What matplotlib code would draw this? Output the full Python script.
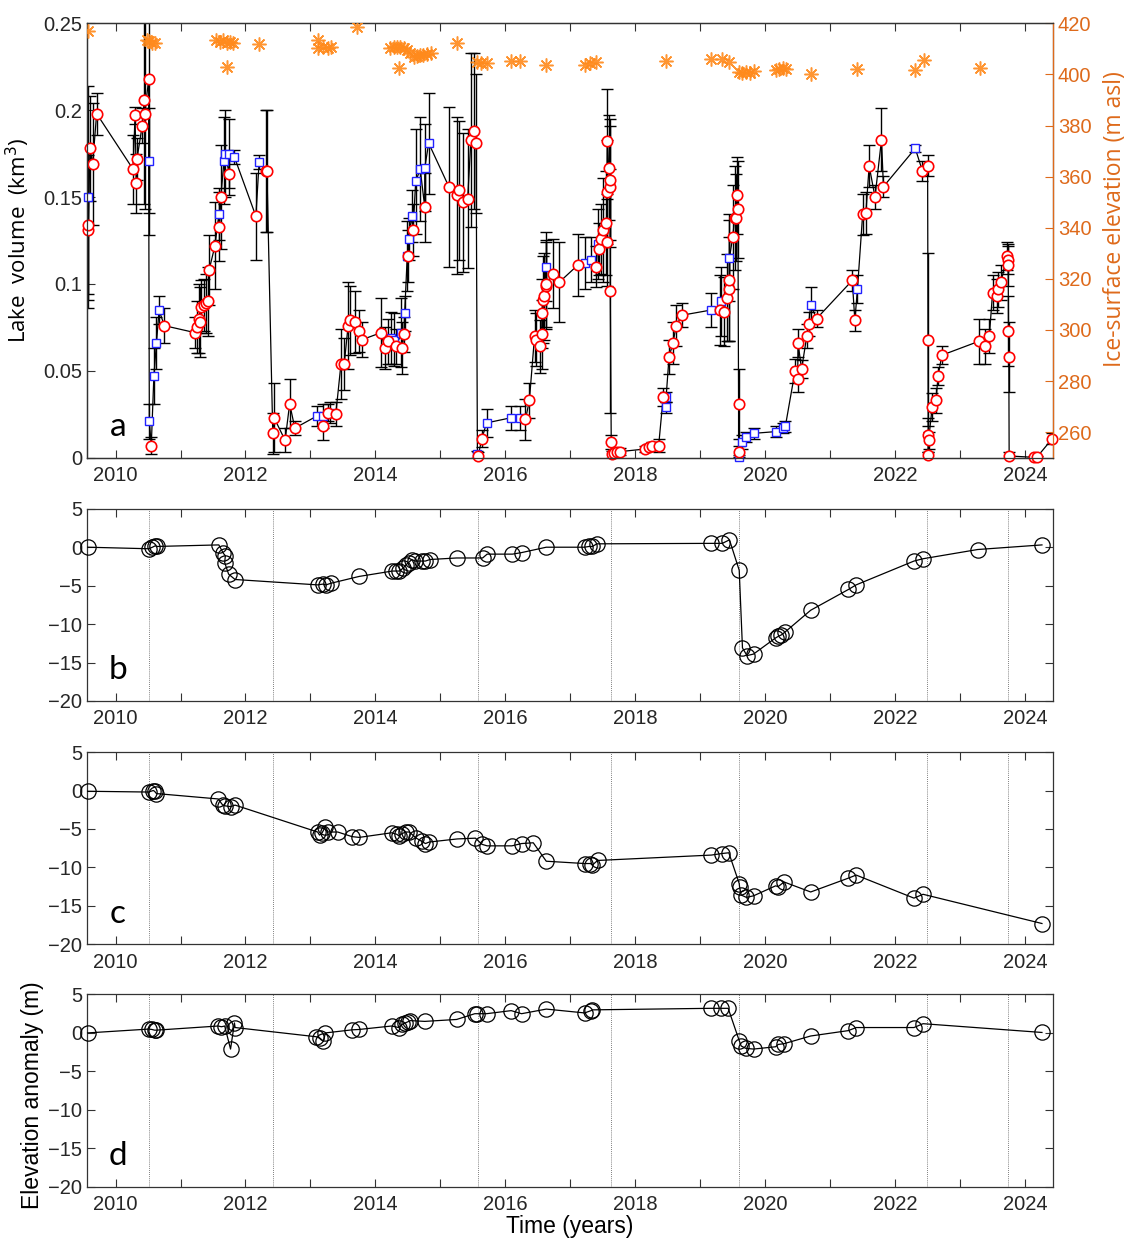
import numpy as np
import matplotlib
matplotlib.use("Agg")
from matplotlib import pyplot as plt

# ---- panel a: lake volume (km3), red circles
red_t = [2009.576, 2009.58, 2009.607, 2009.647, 2009.709, 2010.27, 2010.30, 2010.32, 2010.33, 2010.41,
         2010.44, 2010.45, 2010.51, 2010.55, 2010.75, 2011.22, 2011.25, 2011.28, 2011.30, 2011.31,
         2011.36, 2011.39, 2011.43, 2011.44, 2011.53, 2011.60, 2011.62, 2011.75, 2012.16, 2012.31,
         2012.33, 2012.42, 2012.44, 2012.61, 2012.68, 2012.76, 2013.20, 2013.27, 2013.39, 2013.47,
         2013.52, 2013.58, 2013.61, 2013.69, 2013.74, 2013.80, 2014.09, 2014.14, 2014.19, 2014.32,
         2014.41, 2014.44, 2014.50, 2014.58, 2014.76, 2015.13, 2015.25, 2015.28, 2015.35, 2015.42,
         2015.47, 2015.52, 2015.55, 2015.58, 2015.64, 2016.31, 2016.37, 2016.45, 2016.47, 2016.53,
         2016.56, 2016.565, 2016.58, 2016.59, 2016.62, 2016.63, 2016.73, 2016.83, 2017.12, 2017.40,
         2017.44, 2017.47, 2017.50, 2017.55, 2017.56, 2017.565, 2017.57, 2017.59, 2017.61, 2017.612,
         2017.615, 2017.63, 2017.635, 2017.67, 2017.72, 2017.77, 2018.15, 2018.21, 2018.26, 2018.36,
         2018.43, 2018.52, 2018.58, 2018.63, 2018.72, 2019.31, 2019.36, 2019.41, 2019.44, 2019.45,
         2019.50, 2019.53, 2019.55, 2019.57, 2019.58, 2019.59, 2019.60, 2020.46, 2020.50, 2020.505,
         2020.56, 2020.64, 2020.67, 2020.79, 2021.34, 2021.38, 2021.50, 2021.55, 2021.60, 2021.69,
         2021.79, 2021.82, 2022.42, 2022.50, 2022.505, 2022.507, 2022.51, 2022.515, 2022.57, 2022.63,
         2022.66, 2022.72, 2023.29, 2023.39, 2023.45, 2023.50, 2023.57, 2023.58, 2023.63, 2023.72,
         2023.73, 2023.74, 2023.745, 2023.75, 2023.755, 2024.13, 2024.18, 2024.42]
red_v = [0.131, 0.134, 0.178, 0.169, 0.198, 0.166, 0.197, 0.158, 0.172, 0.191,
         0.206, 0.198, 0.218, 0.007, 0.076, 0.072, 0.075, 0.080, 0.078, 0.087,
         0.088, 0.089, 0.090, 0.108, 0.122, 0.133, 0.150, 0.163, 0.139, 0.165,
         0.165, 0.014, 0.023, 0.010, 0.031, 0.017, 0.018, 0.026, 0.025, 0.054,
         0.054, 0.076, 0.079, 0.078, 0.073, 0.068, 0.072, 0.063, 0.067, 0.064,
         0.063, 0.071, 0.116, 0.131, 0.144, 0.156, 0.151, 0.154, 0.147, 0.149,
         0.183, 0.188, 0.181, 0.001, 0.011, 0.022, 0.033, 0.070, 0.068, 0.064,
         0.071, 0.083, 0.091, 0.093, 0.099, 0.100, 0.106, 0.101, 0.111, 0.110,
         0.120, 0.126, 0.131, 0.135, 0.124, 0.153, 0.182, 0.167, 0.156, 0.160,
         0.096, 0.009, 0.002, 0.0025, 0.0035, 0.0035, 0.005, 0.006, 0.007, 0.007,
         0.035, 0.058, 0.066, 0.076, 0.082, 0.085, 0.084, 0.092, 0.097, 0.102,
         0.127, 0.138, 0.138, 0.151, 0.143, 0.031, 0.0035, 0.050, 0.045, 0.066,
         0.051, 0.070, 0.077, 0.080, 0.102, 0.079, 0.140, 0.141, 0.168, 0.150,
         0.183, 0.156, 0.165, 0.168, 0.068, 0.013, 0.0015, 0.010, 0.029, 0.033,
         0.047, 0.059, 0.067, 0.064, 0.070, 0.095, 0.093, 0.097, 0.101, 0.116,
         0.114, 0.111, 0.073, 0.058, 0.001, 0.0002, 0.0002, 0.011]
red_e = [0.04, 0.04, 0.03, 0.035, 0.012, 0.02, 0.005, 0.017, 0.012, 0.01,
         0.06, 0.055, 0.09, 0.005, 0.01, 0.009, 0.015, 0.02, 0.02, 0.015,
         0.015, 0.017, 0.02, 0.02, 0.025, 0.02, 0.03, 0.012, 0.025, 0.035,
         0.035, 0.012, 0.02, 0.007, 0.014, 0.004, 0.008, 0.005, 0.007, 0.02,
         0.015, 0.025, 0.02, 0.018, 0.012, 0.01, 0.02, 0.012, 0.013, 0.01,
         0.015, 0.01, 0.015, 0.015, 0.02, 0.046, 0.045, 0.04, 0.04, 0.04,
         0.05, 0.045, 0.04, 0.002, 0.005, 0.012, 0.01, 0.015, 0.015, 0.015,
         0.02, 0.02, 0.025, 0.025, 0.025, 0.025, 0.02, 0.023, 0.018, 0.012,
         0.015, 0.02, 0.03, 0.03, 0.025, 0.03, 0.03, 0.03, 0.035, 0.035,
         0.07, 0.004, 0.002, 0.002, 0.002, 0.002, 0.002, 0.002, 0.002, 0.004,
         0.005, 0.01, 0.012, 0.012, 0.007, 0.02, 0.02, 0.025, 0.03, 0.035,
         0.03, 0.03, 0.025, 0.022, 0.028, 0.02, 0.003, 0.007, 0.007, 0.008,
         0.005, 0.007, 0.007, 0.005, 0.006, 0.006, 0.012, 0.012, 0.012, 0.007,
         0.018, 0.006, 0.006, 0.006, 0.05, 0.01, 0.002, 0.005, 0.008, 0.007,
         0.005, 0.005, 0.013, 0.01, 0.01, 0.01, 0.01, 0.01, 0.01, 0.008,
         0.008, 0.012, 0.02, 0.02, 0.002, 0.001, 0.001, 0.003]

# ---- panel a: lake volume (km3), blue squares
blue_t = [2009.576, 2010.51, 2010.52, 2010.59, 2010.63, 2010.67, 2011.59, 2011.67, 2011.69, 2011.75,
          2011.83, 2012.21, 2013.10, 2013.19, 2013.30, 2014.24, 2014.28, 2014.40, 2014.45, 2014.49,
          2014.51, 2014.56, 2014.62, 2014.69, 2014.76, 2014.82, 2015.57, 2015.71, 2016.09, 2016.23,
          2016.62, 2017.22, 2017.32, 2017.42, 2018.47, 2018.475, 2019.17, 2019.32, 2019.45, 2019.59,
          2019.64, 2019.71, 2019.82, 2020.16, 2020.28, 2020.31, 2020.70, 2021.42, 2022.31]
blue_v = [0.150, 0.171, 0.021, 0.047, 0.066, 0.085, 0.140, 0.171, 0.175, 0.175,
          0.173, 0.170, 0.024, 0.024, 0.026, 0.069, 0.068, 0.072, 0.083, 0.116,
          0.126, 0.139, 0.159, 0.166, 0.167, 0.181, 0.002, 0.020, 0.023, 0.023,
          0.110, 0.112, 0.114, 0.123, 0.029, 0.035, 0.085, 0.090, 0.115, 0.0006,
          0.009, 0.012, 0.014, 0.015, 0.017, 0.018, 0.088, 0.097, 0.178]
blue_e = [0.064, 0.03, 0.01, 0.016, 0.015, 0.008, 0.015, 0.025, 0.025, 0.02,
          0.004, 0.004, 0.006, 0.007, 0.006, 0.015, 0.015, 0.02, 0.01, 0.02,
          0.012, 0.015, 0.03, 0.03, 0.025, 0.029, 0.002, 0.008, 0.007, 0.007,
          0.02, 0.015, 0.013, 0.02, 0.003, 0.003, 0.01, 0.02, 0.025, 0.001,
          0.004, 0.003, 0.003, 0.003, 0.003, 0.003, 0.01, 0.008, 0.002]

# ---- panel a: ice-surface elevation (m asl)
ice_t = [2009.58, 2010.49, 2010.52, 2010.56, 2010.61, 2011.55, 2011.61, 2011.66, 2011.71, 2011.76,
         2011.81, 2011.71, 2012.21, 2013.12, 2013.12, 2013.19, 2013.27, 2013.32, 2013.72, 2014.23,
         2014.28, 2014.33, 2014.38, 2014.44, 2014.49, 2014.54, 2014.59, 2014.64, 2014.69, 2014.74,
         2014.79, 2014.85, 2014.36, 2015.25, 2015.56, 2015.62, 2015.72, 2016.09, 2016.23, 2016.62,
         2017.22, 2017.31, 2017.40, 2018.47, 2019.17, 2019.33, 2019.44, 2019.59, 2019.64, 2019.70,
         2019.77, 2019.82, 2020.16, 2020.22, 2020.27, 2020.32, 2020.70, 2021.42, 2022.30, 2022.44,
         2023.30]
ice_z = [417.0, 413.5, 413.0, 412.2, 412.2, 413.5, 412.8, 413.5, 412.3, 412.8,
         412.3, 403.0, 411.8, 413.5, 410.2, 410.9, 410.5, 410.9, 418.7, 410.2,
         410.9, 410.6, 410.9, 410.2, 409.6, 408.3, 407.0, 407.3, 407.6, 407.6,
         408.0, 408.3, 402.4, 412.4, 405.0, 404.6, 404.3, 405.4, 405.3, 403.7,
         403.7, 404.3, 404.7, 405.3, 405.9, 406.0, 405.0, 401.1, 400.7, 401.1,
         400.7, 401.3, 401.7, 402.0, 402.4, 402.1, 400.2, 402.1, 401.7, 405.6,
         402.6]

# ---- panels b, c, d: elevation anomaly (m)
b_t = [2009.57, 2010.51, 2010.56, 2010.61, 2010.64, 2011.59, 2011.66, 2011.69, 2011.68, 2011.74,
       2011.84, 2013.11, 2013.19, 2013.24, 2013.31, 2013.75, 2014.26, 2014.31, 2014.37, 2014.43,
       2014.47, 2014.51, 2014.56, 2014.61, 2014.71, 2014.77, 2014.84, 2015.25, 2015.65, 2015.72,
       2016.11, 2016.25, 2016.63, 2017.22, 2017.29, 2017.34, 2017.41, 2019.17, 2019.34, 2019.45,
       2019.60, 2019.65, 2019.72, 2019.82, 2020.16, 2020.20, 2020.25, 2020.31, 2020.70, 2021.28,
       2021.40, 2022.29, 2022.43, 2023.27, 2024.26]
b_v = [0.0, -0.2, -0.03, 0.18, 0.1, 0.3, -0.8, -1.1, -2.0, -3.5,
       -4.2, -4.9, -4.8, -4.9, -4.7, -3.8, -3.1, -3.1, -3.1, -2.7,
       -2.3, -2.0, -1.6, -1.8, -1.8, -1.8, -1.6, -1.4, -1.4, -0.9,
       -0.9, -0.7, 0.0, 0.0, 0.1, 0.1, 0.44, 0.5, 0.5, 0.96,
       -3.0, -13.1, -14.1, -13.9, -11.8, -11.6, -11.4, -11.0, -8.2, -5.5,
       -4.9, -1.8, -1.5, -0.3, 0.3]

c_t = [2009.57, 2010.51, 2010.58, 2010.60, 2010.63, 2011.58, 2011.65, 2011.69, 2011.77, 2011.84,
       2013.11, 2013.14, 2013.18, 2013.23, 2013.27, 2013.42, 2013.64, 2013.75, 2014.25, 2014.33,
       2014.36, 2014.41, 2014.47, 2014.52, 2014.63, 2014.71, 2014.77, 2014.83, 2015.26, 2015.54,
       2015.64, 2015.72, 2016.10, 2016.25, 2016.43, 2016.63, 2017.22, 2017.31, 2017.34, 2017.42,
       2019.17, 2019.33, 2019.44, 2019.60, 2019.605, 2019.63, 2019.71, 2019.82, 2020.16, 2020.20,
       2020.29, 2020.70, 2021.28, 2021.40, 2022.29, 2022.43, 2024.26]
c_v = [-0.1, -0.2, 0.0, -0.1, -0.4, -1.1, -1.9, -2.0, -2.1, -1.9,
       -5.4, -5.8, -5.5, -4.7, -5.4, -5.4, -6.0, -6.1, -5.5, -5.7,
       -5.9, -5.6, -5.4, -5.4, -6.2, -6.6, -6.9, -6.7, -6.3, -6.2,
       -7.0, -7.2, -7.2, -6.9, -6.8, -9.2, -9.5, -9.5, -9.7, -9.1,
       -8.4, -8.2, -8.1, -12.1, -12.5, -13.6, -13.9, -13.7, -12.4, -12.5,
       -11.9, -13.2, -11.4, -11.0, -14.0, -13.5, -17.3]

d_t = [2009.57, 2010.51, 2010.56, 2010.60, 2010.63, 2011.58, 2011.63, 2011.68, 2011.77, 2011.83,
       2011.84, 2013.09, 2013.15, 2013.20, 2013.23, 2013.64, 2013.75, 2014.25, 2014.36, 2014.41,
       2014.46, 2014.50, 2014.54, 2014.76, 2015.25, 2015.53, 2015.57, 2015.71, 2016.09, 2016.25,
       2016.63, 2017.22, 2017.32, 2017.34, 2019.16, 2019.32, 2019.43, 2019.60, 2019.63, 2019.70,
       2019.82, 2020.16, 2020.20, 2020.29, 2020.70, 2021.28, 2021.40, 2022.29, 2022.43, 2024.26]
d_v = [0.0, 0.5, 0.45, 0.36, 0.36, 0.9, 0.8, 0.9, -2.1, 1.3,
       0.7, -0.5, -0.7, -1.1, 0.0, 0.4, 0.45, 0.9, 0.7, 1.1,
       1.3, 1.45, 1.6, 1.5, 1.75, 2.5, 2.5, 2.5, 2.9, 2.5,
       3.1, 2.6, 2.9, 3.0, 3.2, 3.2, 3.2, -1.0, -1.7, -2.0,
       -2.1, -1.8, -1.5, -1.4, -0.4, 0.3, 0.7, 0.7, 1.2, 0.06]

# dates of the drainage events (dotted lines)
events = [2010.51, 2012.43, 2015.58, 2017.62, 2019.60, 2022.49, 2023.74]

years = list(range(2010, 2025))
year_labels = [str(y) if y % 2 == 0 else "" for y in years]

plt.rcParams["font.family"] = ["Liberation Sans", "DejaVu Sans"]
plt.rcParams["font.size"] = 14.5
plt.rcParams["axes.edgecolor"] = "#333333"
plt.rcParams["axes.linewidth"] = 0.9
plt.rcParams["xtick.direction"] = "in"
plt.rcParams["ytick.direction"] = "in"
plt.rcParams["xtick.major.size"] = 6
plt.rcParams["ytick.major.size"] = 6
plt.rcParams["xtick.major.pad"] = 6
plt.rcParams["xtick.color"] = "#333333"
plt.rcParams["ytick.color"] = "#333333"
plt.rcParams["xtick.labelcolor"] = "#262626"
plt.rcParams["ytick.labelcolor"] = "#262626"

fig = plt.figure(figsize=(11.25, 12.4), dpi=100)
XMIN, XMAX = 2009.56, 2024.43
orange = "#DE6A1B"
letter_font = dict(family=["Lato", "DejaVu Sans"], fontsize=24)
wide_font = ["Open Sans", "DejaVu Sans"]

# ---------------- panel a
ax = fig.add_axes([0.0773, 0.6309, 0.8587, 0.3503])
ax.errorbar(red_t, red_v, yerr=red_e, fmt="none", ecolor="black", elinewidth=1.0,
            capsize=4, capthick=1.0, zorder=2)
ax.errorbar(blue_t, blue_v, yerr=blue_e, fmt="none", ecolor="black", elinewidth=1.0,
            capsize=4, capthick=1.0, zorder=2)
all_t = np.array(red_t + blue_t)
all_v = np.array(red_v + blue_v)
order = np.argsort(all_t, kind="stable")
ax.plot(all_t[order], all_v[order], color="black", lw=0.9, zorder=3)
ax.plot(blue_t, blue_v, ls="none", marker="s", ms=5.5, mfc="white", mec="#2222FF",
        mew=1.0, zorder=4, clip_on=False)
ax.plot(red_t, red_v, ls="none", marker="o", ms=7.5, mfc="white", mec="#FF0000",
        mew=1.2, zorder=5, clip_on=False)
ax.set_xlim(XMIN, XMAX)
ax.set_ylim(0, 0.25)
ax.set_yticks([0, 0.05, 0.1, 0.15, 0.2, 0.25])
ax.set_yticklabels(["0", "0.05", "0.1", "0.15", "0.2", "0.25"])
ax.set_xticks(years)
ax.set_xticklabels(year_labels)
ax.tick_params(axis="x", top=True)
ax.set_ylabel("Lake  volume  (km$^3$)", fontsize=16, family=wide_font)
ax.yaxis.set_label_coords(-0.057, 0.5)
ax.text(0.032, 0.07, "a", transform=ax.transAxes, ha="center", va="center", **letter_font)

ax2 = ax.twinx()
ax2.plot(ice_t, ice_z, ls="none", marker=(8, 2, 0), ms=10, mec="#FF8A1C", mew=1.1,
         alpha=0.9, zorder=6)
ax2.set_ylim(250, 420)
ax2.set_yticks(range(260, 421, 20))
ax2.tick_params(axis="y", colors=orange, labelcolor=orange)
ax2.spines["right"].set_color(orange)
ax2.set_ylabel("Ice-surface elevation (m asl)", color=orange, fontsize=16.5, family=wide_font)
ax2.yaxis.set_label_coords(1.052, 0.55)
ax2.set_xlim(XMIN, XMAX)

# ---------------- panels b, c, d
lower = [(b_t, b_v, "b", 0.4347), (c_t, c_v, "c", 0.2385), (d_t, d_v, "d", 0.0430)]
for t, v, letter, bottom in lower:
    axp = fig.add_axes([0.0773, bottom, 0.8587, 0.1550])
    for ev in events:
        axp.axvline(ev, color="#555555", lw=0.6, ls=(0, (1, 1.5)), zorder=1)
    axp.plot(t, v, color="black", lw=0.9, marker="o", ms=11, mfc="none", mec="black",
             mew=0.9, zorder=3, clip_on=False)
    axp.set_xlim(XMIN, XMAX)
    axp.set_ylim(-20, 5)
    axp.set_yticks([-20, -15, -10, -5, 0, 5])
    axp.set_xticks(years)
    axp.set_xticklabels(year_labels)
    axp.tick_params(top=True, right=True)
    axp.text(0.032, 0.16, letter, transform=axp.transAxes, ha="center", va="center",
             **letter_font)
    last = axp

last.set_ylabel("Elevation anomaly (m)", fontsize=16.5)
last.yaxis.set_label_coords(-0.044, 0.475)
last.set_xlabel("Time (years)", fontsize=16.5, labelpad=1)

fig.savefig("out.png", dpi=100)
